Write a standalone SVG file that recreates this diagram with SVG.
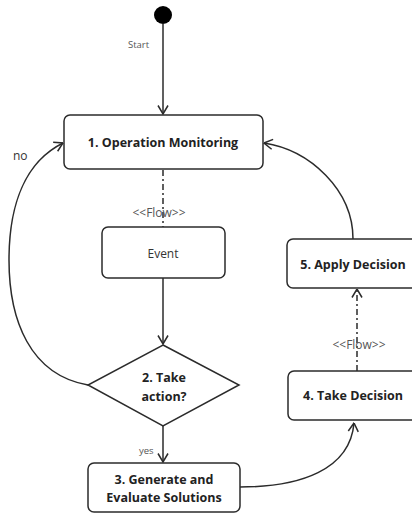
<svg xmlns="http://www.w3.org/2000/svg" width="412" height="513" viewBox="0 0 412 513">
  <style>
    .node { fill: #ffffff; stroke: #2b2b2b; stroke-width: 1.5; }
    .edge { fill: none; stroke: #2b2b2b; stroke-width: 1.5; }
    .flow { stroke-dasharray: 6 3 2 3; }
    .title { font-family: "Open Sans", "Liberation Sans", sans-serif; font-weight: bold; font-size: 12.5px; fill: #222222; text-anchor: middle; }
    .plain { font-family: "Open Sans", "Liberation Sans", sans-serif; font-size: 12px; fill: #333333; text-anchor: middle; }
    .stereo { font-family: "Open Sans", "Liberation Sans", sans-serif; font-size: 12px; fill: #555555; text-anchor: middle; }
    .label { font-family: "Open Sans", "Liberation Sans", sans-serif; font-size: 9.5px; fill: #555555; }
  </style>
  <defs>
    <marker id="open" viewBox="0 0 10 12" refX="9.5" refY="6" markerWidth="10" markerHeight="12" markerUnits="userSpaceOnUse" orient="auto">
      <path d="M1,1 L9.5,6 L1,11" fill="none" stroke="#2b2b2b" stroke-width="1.5"/>
    </marker>
  </defs>

  <rect width="412" height="513" fill="#ffffff"/>

  <g id="connectors">
    <line class="edge" x1="163" y1="24" x2="163" y2="114" marker-end="url(#open)"/>
    <line class="edge flow" x1="163" y1="170" x2="163" y2="227"/>
    <line class="edge" x1="163" y1="278" x2="163" y2="344" marker-end="url(#open)"/>
    <line class="edge" x1="163" y1="426" x2="163" y2="462" marker-end="url(#open)"/>
    <path class="edge" d="M88,385 C30,375 9,320 9,260 C9,205 25,162 63,143" marker-end="url(#open)"/>
    <path class="edge" d="M240,487 C300,487 350,470 354,423" marker-end="url(#open)"/>
    <line class="edge flow" x1="357" y1="371" x2="357" y2="289" marker-end="url(#open)"/>
    <path class="edge" d="M353,239 C353,190 310,150 264,143" marker-end="url(#open)"/>
    <text class="label" x="128" y="48">Start</text>
    <text class="stereo" x="159" y="217">&lt;&lt;Flow&gt;&gt;</text>
    <text class="plain" x="13" y="160" style="text-anchor:start">no</text>
    <text class="label" x="139" y="454">yes</text>
    <text class="stereo" x="359" y="349">&lt;&lt;Flow&gt;&gt;</text>
  </g>

  <g id="start">
    <circle cx="163" cy="15" r="9" fill="#000000"/>
  </g>

  <g id="operation-monitoring">
    <rect class="node" x="64" y="115" width="199" height="54" rx="6"/>
    <text class="title" x="163" y="147">1. Operation Monitoring</text>
  </g>

  <g id="event">
    <rect class="node" x="102" y="227" width="123" height="51" rx="6"/>
    <text class="plain" x="163" y="258">Event</text>
  </g>

  <g id="take-action">
    <polygon class="node" points="163,345 239,385 163,426 88,385"/>
    <text class="title" x="164" y="382">2. Take</text>
    <text class="title" x="164" y="401">action?</text>
  </g>

  <g id="generate-solutions">
    <rect class="node" x="88" y="463" width="152" height="49" rx="6"/>
    <text class="title" x="164" y="484">3. Generate and</text>
    <text class="title" x="164" y="502">Evaluate Solutions</text>
  </g>

  <g id="take-decision">
    <rect class="node" x="288" y="371" width="132" height="49" rx="6"/>
    <text class="title" x="353" y="400">4. Take Decision</text>
  </g>

  <g id="apply-decision">
    <rect class="node" x="287" y="239" width="133" height="49" rx="6"/>
    <text class="title" x="353" y="269">5. Apply Decision</text>
  </g>
</svg>
